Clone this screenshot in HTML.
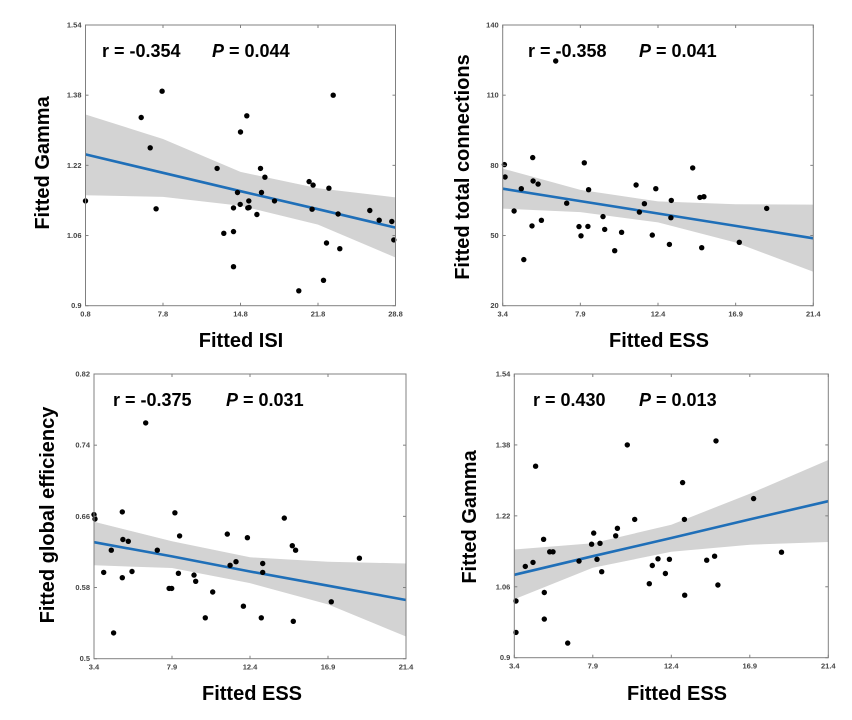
<!DOCTYPE html>
<html><head><meta charset="utf-8"><style>
body{margin:0;background:#fff}
svg{display:block;font-family:"Liberation Sans",Arial,sans-serif}
</style></head><body>
<svg id="fig" width="852" height="720" viewBox="0 0 852 720" xmlns="http://www.w3.org/2000/svg"></svg>
<script>
// Panel 1: Gamma vs ISI
const p1X = [0.8,5.83,6.64,7.18,7.72,12.69,13.29,14.17,14.17,14.17,14.53,14.77,14.80,15.37,15.46,15.55,15.58,16.28,16.61,16.70,17.00,17.87,20.07,21.00,21.27,21.36,22.30,22.57,22.78,23.17,23.62,23.77,26.48,27.33,28.47,28.65];
const p1Y = [1.139,1.329,1.260,1.121,1.389,1.213,1.065,1.069,0.989,1.123,1.158,1.131,1.296,1.333,1.123,1.139,1.124,1.108,1.213,1.158,1.193,1.139,0.934,1.183,1.120,1.175,0.958,1.043,1.168,1.380,1.109,1.030,1.117,1.095,1.092,1.050];
const p1XTicks = [0.8,7.8,14.8,21.8,28.8];
const p1YTicks = [0.9,1.06,1.22,1.38,1.54];
const p1Fit = [1.245,1.203,1.161,1.120,1.078];
const p1Upper = [1.336,1.280,1.205,1.168,1.147];
const p1Lower = [1.152,1.148,1.128,1.085,1.010];
// Panel 2: total connections vs ESS
const p2X = [3.50,3.54,4.06,4.48,4.62,5.10,5.14,5.16,5.45,5.64,6.47,7.11,7.82,7.94,8.13,8.34,8.38,9.21,9.31,9.89,10.29,11.13,11.32,11.61,12.07,12.27,13.06,13.15,13.17,14.41,14.83,14.93,15.06,17.11,18.70];
const p2Y = [80.3,75.0,60.5,70.0,39.7,54.1,83.3,73.3,72.0,56.5,124.6,63.8,53.8,49.9,81.1,53.9,69.6,58.1,52.6,43.5,51.4,71.6,60.0,63.6,50.2,70.0,46.2,57.6,65.0,78.9,66.3,44.8,66.6,47.1,61.6];
const p2XTicks = [3.4,7.9,12.4,16.9,21.4];
const p2YTicks = [20,50,80,110,140];
const p2Fit = [70.0,64.7,59.4,54.1,48.8];
const p2Upper = [78.6,69.5,64.6,63.4,63.2];
const p2Lower = [61.5,60.0,55.6,47.0,34.5];
// Panel 3: global efficiency vs ESS
const p3X = [3.40,3.46,3.96,4.40,4.53,5.03,5.03,5.07,5.38,5.59,6.38,7.05,7.73,7.88,8.07,8.27,8.34,9.17,9.27,9.82,10.25,11.09,11.25,11.59,12.02,12.25,13.05,13.13,13.13,14.38,14.84,14.90,15.03,17.09,18.71];
const p3Y = [0.662,0.657,0.597,0.622,0.529,0.665,0.591,0.634,0.632,0.598,0.765,0.622,0.579,0.579,0.664,0.596,0.638,0.594,0.587,0.546,0.575,0.640,0.605,0.609,0.559,0.636,0.546,0.607,0.597,0.658,0.627,0.542,0.622,0.564,0.613];
const p3XTicks = [3.4,7.9,12.4,16.9,21.4];
const p3YTicks = [0.5,0.58,0.66,0.74,0.82];
const p3Fit = [0.631,0.615,0.598,0.582,0.566];
const p3Upper = [0.654,0.632,0.614,0.609,0.607];
const p3Lower = [0.605,0.602,0.585,0.561,0.525];
// Panel 4: Gamma vs ESS
const p4X = [3.50,3.50,4.03,4.47,4.62,5.08,5.12,5.12,5.43,5.62,6.46,7.11,7.83,7.95,8.14,8.31,8.41,9.21,9.31,9.88,10.30,11.14,11.31,11.64,12.06,12.29,13.05,13.15,13.17,14.43,14.88,14.96,15.07,17.12,18.72];
const p4Y = [1.028,0.957,1.106,1.115,1.332,1.167,1.047,0.987,1.139,1.139,0.933,1.118,1.156,1.181,1.122,1.158,1.094,1.175,1.192,1.380,1.212,1.067,1.108,1.123,1.090,1.122,1.295,1.212,1.041,1.120,1.129,1.389,1.064,1.259,1.138];
const p4XTicks = [3.4,7.9,12.4,16.9,21.4];
const p4YTicks = [0.9,1.06,1.22,1.38,1.54];
const p4Fit = [1.087,1.129,1.170,1.212,1.253];
const p4Upper = [1.144,1.158,1.200,1.270,1.346];
const p4Lower = [1.032,1.103,1.139,1.155,1.161];

const NS = "http://www.w3.org/2000/svg";
const svg = document.getElementById('fig');
function mk(tag, attrs, parent, text){
  const e = document.createElementNS(NS, tag);
  for (const k in attrs) e.setAttribute(k, attrs[k]);
  if (text !== undefined) e.textContent = text;
  (parent || svg).appendChild(e);
  return e;
}
const panels = [
  {id:'gamma-isi', box:[85.5,25,395.5,305.7], xs:p1X, ys:p1Y, xt:p1XTicks, yt:p1YTicks, fit:p1Fit, up:p1Upper, lo:p1Lower, xl:'Fitted ISI', yl:'Fitted Gamma', xlPos:[241,347], ylPos:[42,163], r:'r = -0.354', p:'0.044', rPos:[102,57], pPos:[212,57]},
  {id:'connections-ess', box:[502.7,25,813.3,305.7], xs:p2X, ys:p2Y, xt:p2XTicks, yt:p2YTicks, fit:p2Fit, up:p2Upper, lo:p2Lower, xl:'Fitted ESS', yl:'Fitted total connections', xlPos:[659,347], ylPos:[462,167], r:'r = -0.358', p:'0.041', rPos:[528,57], pPos:[639,57]},
  {id:'efficiency-ess', box:[94,374,406,658.7], xs:p3X, ys:p3Y, xt:p3XTicks, yt:p3YTicks, fit:p3Fit, up:p3Upper, lo:p3Lower, xl:'Fitted ESS', yl:'Fitted global efficiency', xlPos:[252,700], ylPos:[47,515], r:'r = -0.375', p:'0.031', rPos:[113,406], pPos:[226,406]},
  {id:'gamma-ess', box:[514.3,374,828.3,657.7], xs:p4X, ys:p4Y, xt:p4XTicks, yt:p4YTicks, fit:p4Fit, up:p4Upper, lo:p4Lower, xl:'Fitted ESS', yl:'Fitted Gamma', xlPos:[677,700], ylPos:[469,517], r:'r = 0.430', p:'0.013', rPos:[533,406], pPos:[639,406]}
];
panels.forEach(P => {
  const [x0,y0,x1,y1] = P.box;
  const xmin = P.xt[0], xmax = P.xt[P.xt.length-1];
  const ymin = P.yt[0], ymax = P.yt[P.yt.length-1];
  const sx = v => x0 + (v - xmin) / (xmax - xmin) * (x1 - x0);
  const sy = v => y1 - (v - ymin) / (ymax - ymin) * (y1 - y0);
  const g = mk('g', {});
  
  
  // band
  let d = '';
  P.xt.forEach((x,i) => { d += (i ? 'L' : 'M') + sx(x).toFixed(1) + ',' + sy(P.up[i]).toFixed(1); });
  for (let i = P.xt.length-1; i >= 0; i--) d += 'L' + sx(P.xt[i]).toFixed(1) + ',' + sy(P.lo[i]).toFixed(1);
  const band = mk('path', {d: d + 'Z', fill:'#d3d3d3', stroke:'none'}, g);
  
  
  // fit line
  let ld = '';
  P.xt.forEach((x,i) => { ld += (i ? 'L' : 'M') + sx(x).toFixed(1) + ',' + sy(P.fit[i]).toFixed(1); });
  const line = mk('path', {d: ld, fill:'none', stroke:'#1f6fb8', 'stroke-width':2.6}, g);
  
  
  // points
  P.xs.forEach((x,i) => {
    const c = mk('circle', {cx: sx(x).toFixed(1), cy: sy(P.ys[i]).toFixed(1), r: 2.7, fill:'#000'}, g);
    
    
  });
  // box
  const frame = mk('rect', {x:x0, y:y0, width:x1-x0, height:y1-y0, fill:'none', stroke:'#808080', 'stroke-width':1}, g);
  
  
  // ticks
  P.xt.forEach(v => {
    const X = sx(v);
    mk('line', {x1:X, y1:y1, x2:X, y2:y1-3, stroke:'#808080'}, g);
    mk('line', {x1:X, y1:y0, x2:X, y2:y0+3, stroke:'#808080'}, g);
    const t = mk('text', {x:X, y:y1+11, 'font-size':7.5, 'font-weight':'bold', fill:'#444', 'text-anchor':'middle'}, g, String(v));
    
    
  });
  P.yt.forEach(v => {
    const Y = sy(v);
    mk('line', {x1:x0, y1:Y, x2:x0+3, y2:Y, stroke:'#808080'}, g);
    mk('line', {x1:x1, y1:Y, x2:x1-3, y2:Y, stroke:'#808080'}, g);
    const t = mk('text', {x:x0-4, y:Y+2.5, 'font-size':7.5, 'font-weight':'bold', fill:'#444', 'text-anchor':'end'}, g, String(v));
    
    
  });
  // labels
  const xl = mk('text', {x:P.xlPos[0], y:P.xlPos[1], 'font-size':20, 'font-weight':'bold', fill:'#000', 'text-anchor':'middle'}, g, P.xl);
  
  
  const yl = mk('text', {x:0, y:0, 'font-size':20, 'font-weight':'bold', fill:'#000', 'text-anchor':'middle', transform:'translate(' + (P.ylPos[0]+7) + ',' + P.ylPos[1] + ') rotate(-90)'}, g, P.yl);
  
  
  const rt = mk('text', {x:P.rPos[0], y:P.rPos[1], 'font-size':18, 'font-weight':'bold', fill:'#000'}, g, P.r);
  
  
  const pt = mk('text', {x:P.pPos[0], y:P.pPos[1], 'font-size':18, 'font-weight':'bold', fill:'#000'}, g);
  
  
  mk('tspan', {'font-style':'italic'}, pt, 'P');
  mk('tspan', {}, pt, ' = ' + P.p);
});
</script>
</body></html>
